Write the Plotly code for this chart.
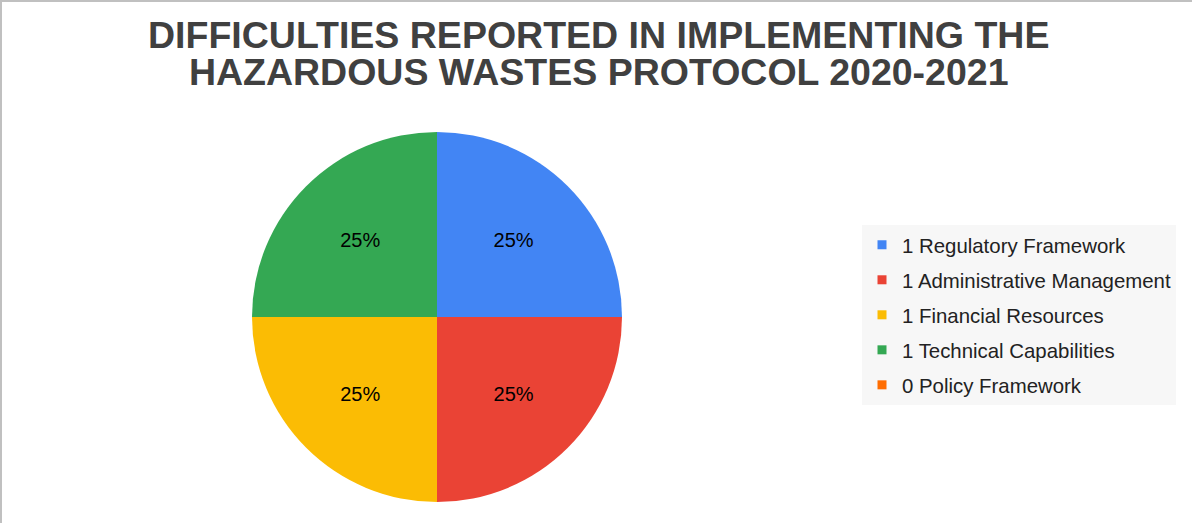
import plotly.graph_objects as go

categories = ["Regulatory Framework", "Administrative Management", "Financial Resources",
              "Technical Capabilities", "Policy Framework"]
values = [1, 1, 1, 1, 0]
colors = ["#4285F4", "#EA4335", "#FBBC04", "#34A853", "#FF6D01"]
title_lines = ["DIFFICULTIES REPORTED IN IMPLEMENTING THE", "HAZARDOUS WASTES PROTOCOL 2020-2021"]

W, H = 1192, 523
total = sum(values)
texts = [f"{round(v / total * 100)}%" if v > 0 else "" for v in values]

fig = go.Figure()
fig.add_trace(go.Pie(
    labels=categories, values=values, sort=False, direction="clockwise", rotation=0,
    marker=dict(colors=colors, line=dict(width=0)),
    text=texts, textinfo="text", textposition="inside", insidetextorientation="horizontal",
    textfont=dict(family="Liberation Sans, Arial", size=20, color="#000000"),
    showlegend=False, hoverinfo="label+value+percent",
    domain=dict(x=[252 / W, 622 / W], y=[1 - 502 / H, 1 - 132 / H]),
))

for i, (c, v, col) in enumerate(zip(categories, values, colors)):
    fig.add_trace(go.Scatter(
        x=[None], y=[None], mode="markers", name=f"{v} {c}", legendgroup=f"g{i}",
        marker=dict(symbol="square", size=9, color=col),
    ))

title_html = "<br>".join(
    f"<b><span style='font-size:37.5px'>{line}</span></b>" for line in title_lines
)
fig.add_annotation(
    text=title_html, x=0.502, y=1 - 54 / H, xref="paper", yref="paper",
    xanchor="center", yanchor="middle", showarrow=False,
    font=dict(family="Liberation Sans, Arial", size=28.5, color="#404040"),
)

fig.update_layout(
    width=W, height=H, margin=dict(l=0, r=0, t=0, b=0),
    paper_bgcolor="white", plot_bgcolor="white",
    xaxis=dict(visible=False), yaxis=dict(visible=False),
    legend=dict(
        x=862 / W, y=1 - 225 / H, xanchor="left", yanchor="top",
        bgcolor="#f7f7f7", font=dict(family="Liberation Sans, Arial", size=20.4, color="#222222"),
        tracegroupgap=5.5, traceorder="grouped",
    ),
    shapes=[
        dict(type="line", xref="paper", yref="paper", x0=0, x1=1, y0=1, y1=1,
             line=dict(color="#c0c0c0", width=4)),
        dict(type="line", xref="paper", yref="paper", x0=0, x1=0, y0=0, y1=1,
             line=dict(color="#c0c0c0", width=4)),
    ],
)

fig.write_html("out.html", config={"displayModeBar": False},
               post_script="document.body.style.margin='0';")
